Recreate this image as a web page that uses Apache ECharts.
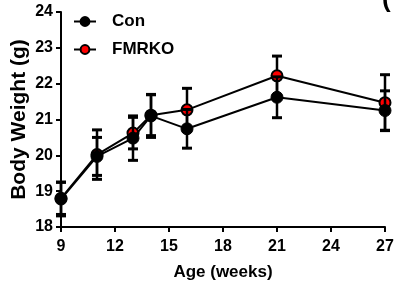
<!DOCTYPE html>
<html>
<head>
<meta charset="utf-8">
<script src="https://cdn.jsdelivr.net/npm/echarts@6/dist/echarts.min.js"></script>
<style>
html,body{margin:0;padding:0;background:#fff;}
#chart{width:395px;height:287px;}
</style>
</head>
<body>
<div id="chart"></div>
<script>
const ages = [9, 11, 13, 14, 16, 21, 27];
const conMean = [18.78, 19.97, 20.48, 21.10, 20.74, 21.62, 21.25];
const conErr = [0.47, 0.53, 0.62, 0.60, 0.54, 0.57, 0.55];
const fmrkoMean = [18.80, 20.02, 20.62, 21.12, 21.27, 22.22, 21.47];
const fmrkoErr = [0.45, 0.69, 0.44, 0.57, 0.60, 0.55, 0.78];
const xTicks = [9, 12, 15, 18, 21, 24, 27];
const yTicks = [18, 19, 20, 21, 22, 23, 24];

const FONT = '"Liberation Sans", Arial, sans-serif';

function errData(mean, err) {
  return ages.map((a, i) => [a, mean[i] - err[i], mean[i] + err[i]]);
}
function errRender(params, api) {
  const x = api.value(0);
  const lo = api.coord([x, api.value(1)]);
  const hi = api.coord([x, api.value(2)]);
  const hw = 5;
  const style = {stroke: '#000', lineWidth: 2.5, fill: null};
  return {
    type: 'group',
    children: [
      {type: 'line', shape: {x1: lo[0], y1: lo[1], x2: hi[0], y2: hi[1]}, style: style},
      {type: 'line', shape: {x1: hi[0] - hw, y1: hi[1], x2: hi[0] + hw, y2: hi[1]}, style: {stroke: '#000', lineWidth: 3}},
      {type: 'line', shape: {x1: lo[0] - hw, y1: lo[1], x2: lo[0] + hw, y2: lo[1]}, style: {stroke: '#000', lineWidth: 3}}
    ]
  };
}

const chart = echarts.init(document.getElementById('chart'), null, {renderer: 'canvas'});
chart.setOption({
  animation: false,
  grid: {left: 61, right: 10, top: 12, bottom: 60, containLabel: false, outerBoundsMode: 'none'},
  legend: {
    data: ['Con', 'FMRKO'],
    orient: 'vertical',
    left: 73,
    top: 13,
    padding: 0,
    itemWidth: 22,
    itemHeight: 11,
    itemGap: 11,
    textStyle: {fontFamily: FONT, fontWeight: 'bold', fontSize: 17, color: '#000', padding: [0, 0, 0, 11]}
  },
  xAxis: {
    type: 'value',
    min: 9, max: 27, interval: 3,
    name: 'Age (weeks)',
    nameLocation: 'middle',
    nameGap: 37,
    nameMoveOverlap: false,
    nameTextStyle: {fontFamily: FONT, fontWeight: 'bold', fontSize: 17, color: '#000'},
    axisLine: {show: true, onZero: false, lineStyle: {color: '#000', width: 2}},
    axisTick: {show: true, inside: false, length: 5, lineStyle: {color: '#000', width: 2}},
    axisLabel: {fontFamily: FONT, fontWeight: 'bold', fontSize: 16, color: '#000', margin: 12,
      customValues: xTicks},
    splitLine: {show: false}
  },
  yAxis: {
    type: 'value',
    min: 18, max: 24, interval: 1,
    name: 'Body Weight (g)',
    nameLocation: 'middle',
    nameGap: 31,
    nameMoveOverlap: false,
    nameTextStyle: {fontFamily: FONT, fontWeight: 'bold', fontSize: 21, color: '#000'},
    axisLine: {show: true, onZero: false, lineStyle: {color: '#000', width: 2}},
    axisTick: {show: true, inside: false, length: 5, lineStyle: {color: '#000', width: 2}},
    axisLabel: {fontFamily: FONT, fontWeight: 'bold', fontSize: 16, color: '#000', margin: 8},
    splitLine: {show: false}
  },
  series: [
    {
      name: 'FMRKO-err', type: 'custom', renderItem: errRender,
      data: errData(fmrkoMean, fmrkoErr), z: 2, silent: true
    },
    {
      name: 'FMRKO', type: 'line',
      data: ages.map((a, i) => [a, fmrkoMean[i]]),
      symbol: 'circle', symbolSize: 11,
      lineStyle: {color: '#000', width: 2},
      itemStyle: {color: '#ff0000', borderColor: '#000', borderWidth: 2},
      z: 3
    },
    {
      name: 'Con-err', type: 'custom', renderItem: errRender,
      data: errData(conMean, conErr), z: 4, silent: true
    },
    {
      name: 'Con', type: 'line',
      data: ages.map((a, i) => [a, conMean[i]]),
      symbol: 'circle', symbolSize: 12,
      lineStyle: {color: '#000', width: 2},
      itemStyle: {color: '#000', borderColor: '#000', borderWidth: 1},
      z: 5
    }
  ],
  graphic: [
    {type: 'text', left: 382, top: -13, style: {text: '(', fontFamily: FONT, fontWeight: 'bold', fontSize: 26, fill: '#000'}}
  ]
});
</script>
</body>
</html>
